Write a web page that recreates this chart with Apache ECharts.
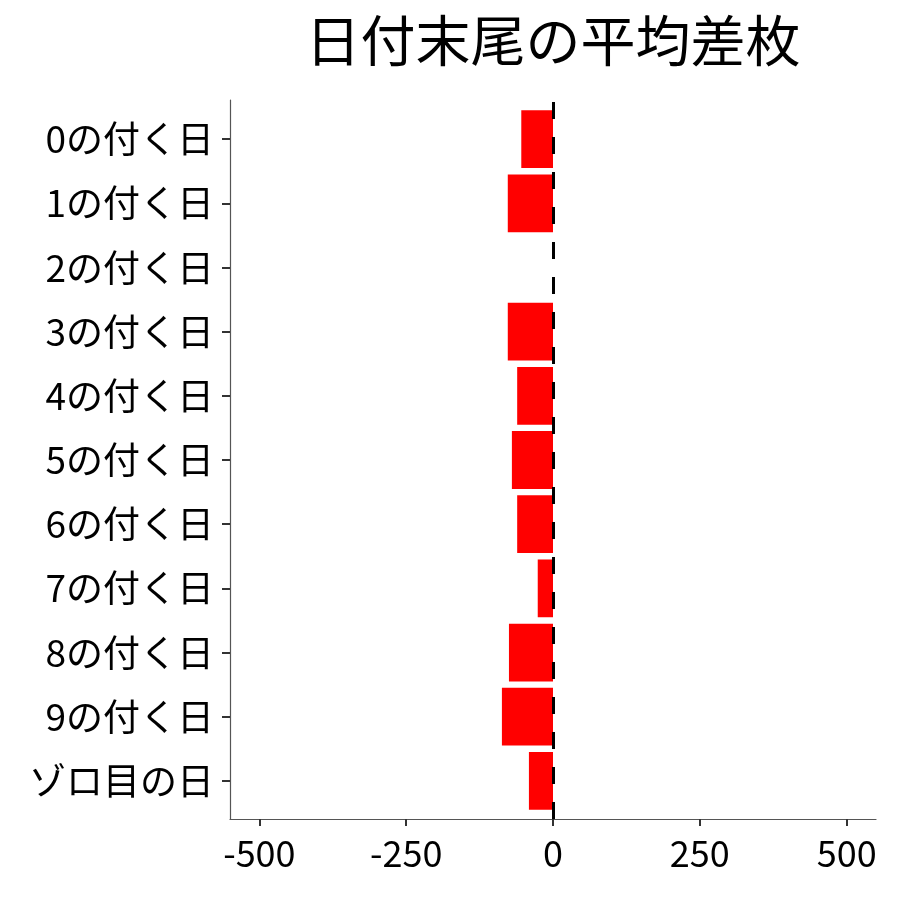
<!DOCTYPE html>
<html>
<head>
<meta charset="utf-8">
<script src="https://cdn.jsdelivr.net/npm/echarts@6/dist/echarts.min.js"></script>
<style>html,body{margin:0;padding:0;background:#fff}#c{width:900px;height:900px}</style>
</head>
<body>
<div id="c"></div>
<script>
const titleText = "日付末尾の平均差枚";
const categories = ["0の付く日","1の付く日","2の付く日","3の付く日","4の付く日","5の付く日","6の付く日","7の付く日","8の付く日","9の付く日","ゾロ目の日"];
const values = [-54, -77, 0, -77, -61, -70, -61, -26, -75, -87, -41];
const xTicks = [-500, -250, 0, 250, 500];
const xMin = -550, xMax = 550;

const font = '"Noto Sans CJK JP", "Noto Sans", sans-serif';
const chart = echarts.init(document.getElementById('c'), null, {renderer: 'canvas'});
chart.setOption({
  animation: false,
  backgroundColor: '#fff',
  title: {
    text: titleText, left: 548, top: 8, textAlign: 'center',
    textStyle: {fontFamily: font, fontSize: 55, fontWeight: 'normal', color: '#000'}
  },
  grid: [
    {left: 230, right: 24, top: 107, height: 706, containLabel: false},
    {left: 230, right: 24, top: 100, bottom: 81, containLabel: false}
  ],
  xAxis: [
    {gridIndex: 0, type: 'value', min: xMin, max: xMax, show: false},
    {gridIndex: 1, type: 'value', min: xMin, max: xMax,
     axisLine: {show: true, lineStyle: {color: '#555', width: 1.2}},
     axisTick: {show: true, length: 7, lineStyle: {color: '#333', width: 2},
       customValues: xTicks},
     axisLabel: {fontFamily: font, fontSize: 36, color: '#000', margin: 16,
       customValues: xTicks},
     splitLine: {show: false}}
  ],
  yAxis: [
    {gridIndex: 0, type: 'category', data: categories, inverse: true,
     axisLine: {show: false, onZero: false},
     axisTick: {show: true, alignWithLabel: true, length: 8, lineStyle: {color: '#333', width: 2}},
     axisLabel: {fontFamily: font, fontSize: 37, color: '#000', margin: 16},
     splitLine: {show: false}},
    {gridIndex: 1, type: 'value', min: 0, max: 1,
     axisLine: {show: true, onZero: false, lineStyle: {color: '#555', width: 1.2}},
     axisTick: {show: false}, axisLabel: {show: false}, splitLine: {show: false}}
  ],
  series: [
    {type: 'bar', xAxisIndex: 0, yAxisIndex: 0, data: values,
     barCategoryGap: '10%', itemStyle: {color: '#ff0000'}},
    {type: 'line', xAxisIndex: 1, yAxisIndex: 1, data: [], silent: true,
     markLine: {symbol: ['none','none'], silent: true, label: {show: false},
       lineStyle: {color: '#000', width: 3, type: [17, 18]},
       data: [{xAxis: 0}]}}
  ]
});
</script>
</body>
</html>
